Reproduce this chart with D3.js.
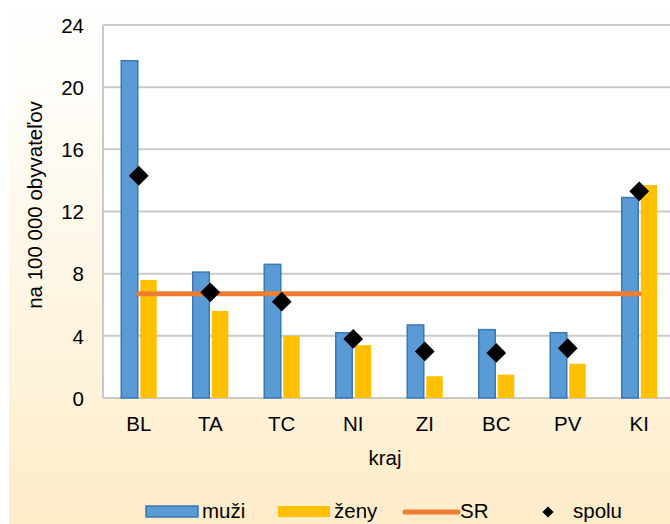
<!DOCTYPE html>
<html>
<head>
<meta charset="utf-8">
<script src="https://cdn.jsdelivr.net/npm/d3@7"></script>
<style>
  body { margin: 0; }
  text { font-family: "Liberation Sans", Arial, sans-serif; fill: #000; }
</style>
</head>
<body>
<svg id="chart" width="670" height="524"></svg>
<script>
// data
var kraje = ['BL', 'TA', 'TC', 'NI', 'ZI', 'BC', 'PV', 'KI'];
var muzi  = [21.7, 8.1, 8.6, 4.2, 4.7, 4.4, 4.2, 12.9];
var zeny  = [7.6, 5.6, 4.0, 3.4, 1.4, 1.5, 2.2, 13.7];
var spolu = [14.3, 6.8, 6.2, 3.8, 3.0, 2.9, 3.2, 13.3];
var sr = 6.7;
var yTicks = [0, 4, 8, 12, 16, 20, 24];

var svg = d3.select('#chart');
var W = 670, H = 524;
var m = {left: 103, top: 25, right: -5, bottom: 126};
var fs = '20.5px';

// background: white page, gradient chart area
var defs = svg.append('defs');
var grad = defs.append('linearGradient').attr('id', 'bg')
  .attr('x1', 0).attr('y1', 0).attr('x2', 0).attr('y2', 1);
grad.append('stop').attr('offset', '0%').attr('stop-color', '#ffffff');
grad.append('stop').attr('offset', '25%').attr('stop-color', '#fffcf6');
grad.append('stop').attr('offset', '100%').attr('stop-color', '#fdecc8');
svg.append('rect').attr('width', W).attr('height', H).attr('fill', '#fff');
svg.append('rect').attr('x', 9).attr('width', W - 9).attr('height', H).attr('fill', 'url(#bg)');

var x = d3.scaleBand().domain(kraje).range([m.left, W - m.right]);
var y = d3.scaleLinear().domain([0, 24]).range([H - m.bottom, m.top]);

// plot area
svg.append('rect')
  .attr('x', m.left).attr('y', m.top)
  .attr('width', W - m.right - m.left).attr('height', y(0) - m.top)
  .attr('fill', '#fff');

// gridlines
svg.append('g').selectAll('line').data(yTicks).join('line')
  .attr('x1', m.left).attr('x2', W - m.right)
  .attr('y1', d => y(d)).attr('y2', d => y(d))
  .attr('stroke', '#c9c9c9').attr('stroke-width', 2);
svg.append('line')
  .attr('x1', m.left).attr('x2', m.left)
  .attr('y1', y(24)).attr('y2', y(0))
  .attr('stroke', '#c9c9c9').attr('stroke-width', 2);

// y axis
var yAxis = svg.append('g').attr('transform', 'translate(' + (m.left - 19) + ',0)')
  .call(d3.axisLeft(y).tickValues(yTicks).tickSize(0).tickPadding(0));
yAxis.select('.domain').remove();
yAxis.selectAll('text').style('font-size', fs).attr('dy', '0.35em');

// x axis labels
var xAxis = svg.append('g').attr('transform', 'translate(0,' + (y(0) + 18) + ')')
  .call(d3.axisBottom(x).tickSize(0).tickPadding(0));
xAxis.select('.domain').remove();
xAxis.selectAll('text').style('font-size', fs).attr('dy', '0.71em');

var bw = 17.5;
// bars muži
svg.append('g').selectAll('rect').data(kraje).join('rect')
  .attr('x', (d, i) => x(d) + x.bandwidth() / 2 - bw)
  .attr('y', (d, i) => y(muzi[i]))
  .attr('width', bw - 1)
  .attr('height', (d, i) => y(0) - y(muzi[i]))
  .attr('fill', '#5b9bd5').attr('stroke', '#3b78b5').attr('stroke-width', 1.5);

// bars ženy
svg.append('g').selectAll('rect').data(kraje).join('rect')
  .attr('x', (d, i) => x(d) + x.bandwidth() / 2 + 1.5)
  .attr('y', (d, i) => y(zeny[i]))
  .attr('width', bw - 1)
  .attr('height', (d, i) => y(0) - y(zeny[i]))
  .attr('fill', '#ffc000');

// SR line
svg.append('line')
  .attr('x1', x(kraje[0]) + x.bandwidth() / 2)
  .attr('x2', x(kraje[kraje.length - 1]) + x.bandwidth() / 2)
  .attr('y1', y(sr)).attr('y2', y(sr))
  .attr('stroke', '#ed7d31').attr('stroke-width', 5).attr('stroke-linecap', 'round');

// spolu diamonds
var diamond = d3.symbol().type(d3.symbolDiamond2).size(250);
svg.append('g').selectAll('path').data(kraje).join('path')
  .attr('d', diamond)
  .attr('transform', (d, i) => 'translate(' + (x(d) + x.bandwidth() / 2) + ',' + y(spolu[i]) + ')')
  .attr('fill', '#000');

// axis titles
svg.append('text')
  .attr('transform', 'translate(42,' + 205 + ') rotate(-90)')
  .attr('text-anchor', 'middle').style('font-size', fs)
  .text('na 100 000 obyvateľov');
svg.append('text')
  .attr('x', 385).attr('y', 465)
  .attr('text-anchor', 'middle').style('font-size', fs)
  .text('kraj');

// legend
var lg = svg.append('g').attr('transform', 'translate(0,511)');
lg.append('rect').attr('x', 146).attr('y', -5).attr('width', 52).attr('height', 11)
  .attr('fill', '#5b9bd5').attr('stroke', '#3b78b5').attr('stroke-width', 1.5);
lg.append('text').attr('x', 202).attr('y', 0).attr('dy', '0.35em').style('font-size', fs).text('muži');
lg.append('rect').attr('x', 278).attr('y', -5).attr('width', 52).attr('height', 11).attr('fill', '#ffc000');
lg.append('text').attr('x', 334).attr('y', 0).attr('dy', '0.35em').style('font-size', fs).text('ženy');
lg.append('line').attr('x1', 405).attr('x2', 458).attr('y1', 1).attr('y2', 1)
  .attr('stroke', '#ed7d31').attr('stroke-width', 5).attr('stroke-linecap', 'round');
lg.append('text').attr('x', 460).attr('y', 0).attr('dy', '0.35em').style('font-size', fs).text('SR');
lg.append('path').attr('d', d3.symbol().type(d3.symbolDiamond2).size(80))
  .attr('transform', 'translate(548,1)').attr('fill', '#000');
lg.append('text').attr('x', 573).attr('y', 0).attr('dy', '0.35em').style('font-size', fs).text('spolu');
</script>
</body>
</html>
